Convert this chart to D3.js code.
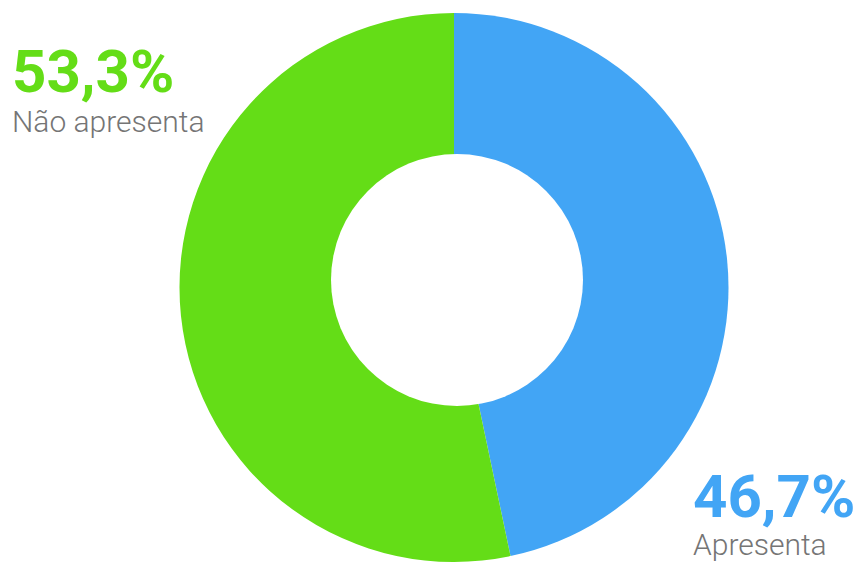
<!DOCTYPE html>
<html>
<head>
<meta charset="utf-8">
<script src="https://cdn.jsdelivr.net/npm/d3@7"></script>
<style>
  html, body { margin: 0; padding: 0; background: #fff; }
  svg { display: block; }
  text { font-family: Roboto, "Noto Sans", sans-serif; }
</style>
</head>
<body>
<script>
const categories = ["Apresenta", "Não apresenta"];
const values = [46.7, 53.3];
const valueLabels = ["46,7%", "53,3%"];
const colors = ["#42A5F5", "#64DD17"];

const W = 861, H = 563;
const svg = d3.select("body").append("svg").attr("width", W).attr("height", H);

const cx = 454, cy = 287.5, R = 274.5;
const pie = d3.pie().sort(null).value(d => d.value);
const data = categories.map((c, i) => ({ name: c, value: values[i], color: colors[i], label: valueLabels[i] }));
const arcs = pie(data);
const arc = d3.arc().innerRadius(0).outerRadius(R);

const g = svg.append("g").attr("transform", `translate(${cx},${cy})`);
g.selectAll("path").data(arcs).enter().append("path")
  .attr("d", arc)
  .attr("fill", d => d.data.color);

// donut hole
svg.append("circle").attr("cx", 457).attr("cy", 280).attr("r", 126).attr("fill", "#fff");

// labels
const labelPos = [
  { x: 693, y: 517, y2: 555 },   // Apresenta
  { x: 12, y: 92, y2: 132 }      // Não apresenta
];
data.forEach((d, i) => {
  svg.append("text")
    .attr("x", labelPos[i].x).attr("y", labelPos[i].y)
    .attr("fill", d.color)
    .attr("font-size", 60).attr("font-weight", 700)
    .text(d.label);
  svg.append("text")
    .attr("x", labelPos[i].x).attr("y", labelPos[i].y2)
    .attr("fill", "#757575")
    .attr("font-size", 30).attr("font-weight", 300)
    .text(d.name);
});
</script>
</body>
</html>
